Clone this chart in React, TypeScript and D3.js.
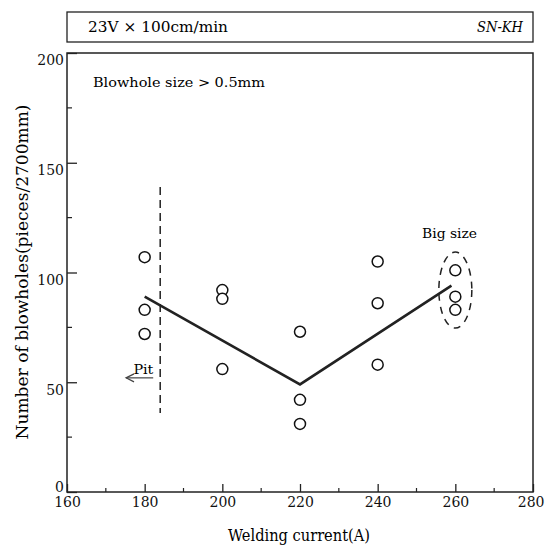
import React, { useRef, useEffect } from 'react';
import { select, scaleLinear, axisBottom, axisLeft, line, range } from 'd3';

// measured points (welding current A, blowholes per 2700mm)
const currents = [180, 180, 180, 200, 200, 200, 220, 220, 220, 240, 240, 240, 260, 260, 260];
const blowholes = [107, 83, 72, 92, 88, 56, 73, 42, 31, 105, 86, 58, 101, 89, 83];

// trend line
const trendX = [180, 220, 259];
const trendY = [89, 49, 94];

const xTicks = [160, 180, 200, 220, 240, 260, 280];
const yTicks = [0, 50, 100, 150, 200];

const pitLimit = 184;
const pitRange = [36, 139];

const W = 545;
const H = 549;
const FONT = "'DejaVu Serif', 'Liberation Serif', serif";

function App() {
  const svgRef = useRef<SVGSVGElement>(null);

  useEffect(() => {
    const svg = select(svgRef.current);
    svg.selectAll('*').remove();

    const xScale = scaleLinear().domain([160, 280]).range([67, 533]);
    const yScale = scaleLinear().domain([0, 200]).range([492, 53]);

    // header box
    svg.append('rect')
      .attr('x', 67).attr('y', 12).attr('width', 466).attr('height', 30)
      .attr('fill', 'none').attr('stroke', '#222').attr('stroke-width', 1.3);
    svg.append('text')
      .attr('x', 88).attr('y', 32)
      .attr('font-size', 14.5).attr('font-family', FONT)
      .attr('textLength', 140).attr('lengthAdjust', 'spacingAndGlyphs')
      .text('23V × 100cm/min');
    svg.append('text')
      .attr('x', 523).attr('y', 32).attr('text-anchor', 'end')
      .attr('font-size', 14).attr('font-family', FONT).attr('font-style', 'italic')
      .attr('textLength', 46).attr('lengthAdjust', 'spacingAndGlyphs')
      .text('SN-KH');

    // plot frame
    svg.append('rect')
      .attr('x', xScale(160)).attr('y', yScale(200))
      .attr('width', xScale(280) - xScale(160))
      .attr('height', yScale(0) - yScale(200))
      .attr('fill', 'none').attr('stroke', '#222').attr('stroke-width', 1.5);

    // x axis ticks (inside) and labels
    const xMinor = range(170, 280, 20);
    const xAxis = axisBottom(xScale).tickValues(xTicks).tickSize(-8).tickFormat(d => `${d}`);
    const gx = svg.append('g')
      .attr('transform', `translate(0,${yScale(0)})`)
      .call(xAxis);
    gx.select('.domain').remove();
    gx.selectAll('line').attr('stroke', '#222').attr('stroke-width', 1.3);
    gx.selectAll('text')
      .attr('y', 5).attr('dy', '0.71em')
      .attr('font-size', 14).attr('font-family', FONT).attr('fill', '#111')
      .attr('text-anchor', (d: any) => d === 280 ? 'end' : 'middle')
      .attr('x', (d: any) => d === 280 ? 11 : 0);
    svg.append('g')
      .selectAll('line')
      .data(xMinor)
      .join('line')
        .attr('x1', d => xScale(d)).attr('x2', d => xScale(d))
        .attr('y1', yScale(0)).attr('y2', yScale(0) - 4)
        .attr('stroke', '#222').attr('stroke-width', 1.2);

    // y axis ticks (inside) and labels
    const yMinor = range(25, 200, 50);
    const yAxis = axisLeft(yScale).tickValues(yTicks).tickSize(-10).tickFormat(d => `${d}`);
    const gy = svg.append('g')
      .attr('transform', `translate(${xScale(160)},0)`)
      .call(yAxis);
    gy.select('.domain').remove();
    gy.selectAll('line').attr('stroke', '#222').attr('stroke-width', 1.3);
    gy.selectAll('text')
      .attr('x', -3)
      .attr('dy', (d: any) => d === 0 ? '-0.05em' : '0.85em')
      .attr('font-size', 14).attr('font-family', FONT).attr('fill', '#111');
    svg.append('g')
      .selectAll('line')
      .data(yMinor)
      .join('line')
        .attr('x1', xScale(160)).attr('x2', xScale(160) + 5)
        .attr('y1', d => yScale(d)).attr('y2', d => yScale(d))
        .attr('stroke', '#222').attr('stroke-width', 1.2);

    // axis titles
    svg.append('text')
      .attr('x', 299).attr('y', 541).attr('text-anchor', 'middle')
      .attr('font-size', 16).attr('font-family', FONT)
      .attr('textLength', 142).attr('lengthAdjust', 'spacingAndGlyphs')
      .text('Welding current(A)');
    svg.append('text')
      .attr('transform', `translate(28,${272}) rotate(-90)`)
      .attr('text-anchor', 'middle')
      .attr('font-size', 16).attr('font-family', FONT)
      .attr('textLength', 335).attr('lengthAdjust', 'spacingAndGlyphs')
      .text('Number of blowholes(pieces/2700mm)');

    // annotation
    svg.append('text')
      .attr('x', 93).attr('y', 87)
      .attr('font-size', 13.5).attr('font-family', FONT)
      .attr('textLength', 172).attr('lengthAdjust', 'spacingAndGlyphs')
      .text('Blowhole size > 0.5mm');

    // pit limit
    svg.append('line')
      .attr('x1', xScale(pitLimit)).attr('x2', xScale(pitLimit))
      .attr('y1', yScale(pitRange[1])).attr('y2', yScale(pitRange[0]))
      .attr('stroke', '#222').attr('stroke-width', 1.5).attr('stroke-dasharray', '8,5');
    const arrowY = yScale(52);
    svg.append('line')
      .attr('x1', xScale(182.2)).attr('x2', xScale(175.2))
      .attr('y1', arrowY).attr('y2', arrowY)
      .attr('stroke', '#444').attr('stroke-width', 1.2);
    svg.append('path')
      .attr('d', `M${xScale(175.2) + 8},${arrowY - 4} L${xScale(175.2)},${arrowY} L${xScale(175.2) + 8},${arrowY + 4}`)
      .attr('fill', 'none').attr('stroke', '#444').attr('stroke-width', 1.2);
    svg.append('text')
      .attr('x', xScale(177.1)).attr('y', arrowY - 4)
      .attr('font-size', 13.5).attr('font-family', FONT)
      .attr('textLength', 20).attr('lengthAdjust', 'spacingAndGlyphs')
      .text('Pit');

    // trend line
    const trend = trendX.map((x, i) => [x, trendY[i]] as [number, number]);
    svg.append('path')
      .datum(trend)
      .attr('d', line<[number, number]>().x(d => xScale(d[0])).y(d => yScale(d[1])))
      .attr('fill', 'none').attr('stroke', '#222').attr('stroke-width', 2.6);

    // points
    svg.append('g')
      .selectAll('circle')
      .data(currents.map((c, i) => ({ c, v: blowholes[i] })))
      .join('circle')
        .attr('cx', d => xScale(d.c))
        .attr('cy', d => yScale(d.v))
        .attr('r', 5.5)
        .attr('fill', 'white').attr('stroke', '#111').attr('stroke-width', 1.5);

    // big size group
    svg.append('ellipse')
      .attr('cx', xScale(260)).attr('cy', yScale(92))
      .attr('rx', 16.5).attr('ry', 38)
      .attr('fill', 'none').attr('stroke', '#222').attr('stroke-width', 1.5)
      .attr('stroke-dasharray', '7,6');
    svg.append('text')
      .attr('x', 449.5).attr('y', yScale(115.5)).attr('text-anchor', 'middle')
      .attr('font-size', 13.5).attr('font-family', FONT)
      .attr('textLength', 55).attr('lengthAdjust', 'spacingAndGlyphs')
      .text('Big size');
  }, []);

  return (
    <div>
      <svg ref={svgRef} width={W} height={H}
        style={{ position: 'absolute', left: 0, top: 0, background: 'white' }} />
    </div>
  );
}

export default App;
